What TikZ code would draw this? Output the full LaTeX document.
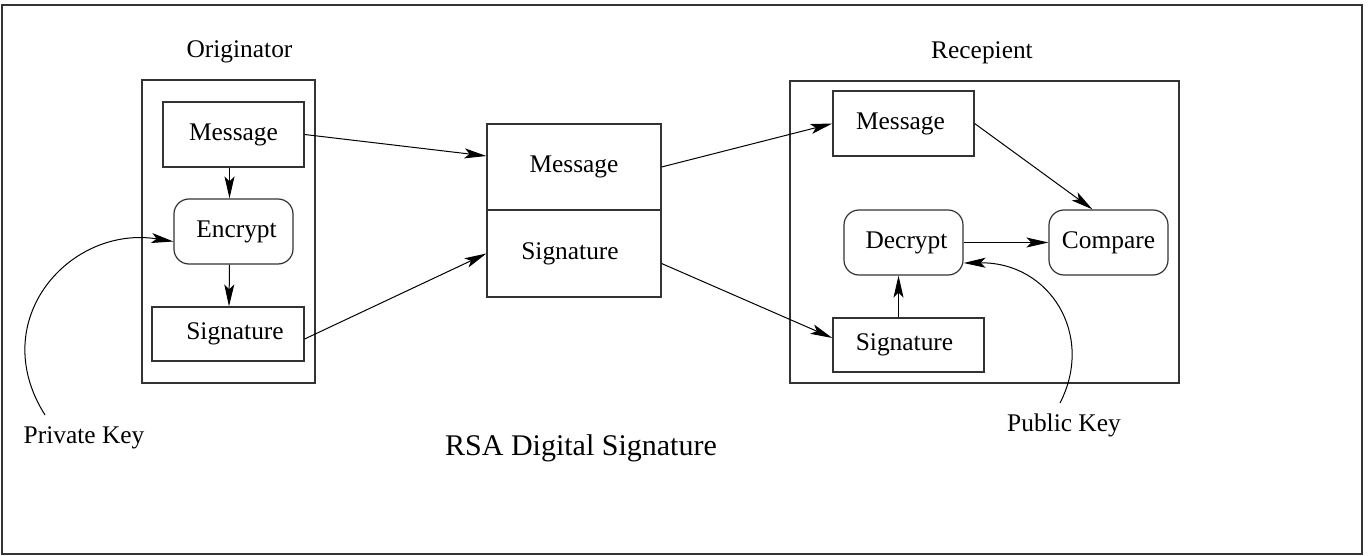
\documentclass[tikz,border=0pt]{standalone}
\usepackage{fontspec}
\setmainfont{Liberation Serif}
\usetikzlibrary{arrows.meta,calc}
\begin{document}
\begin{tikzpicture}[x=0.5pt,y=-0.5pt,
 box/.style={draw=black!80, line width=0.6pt, inner sep=0pt, font=\fontsize{12.7}{15}\selectfont},
 rbox/.style={box, rounded corners=7.5pt},
 lbl/.style={inner sep=0pt, font=\fontsize{12.7}{15}\selectfont},
 conn/.style={-{Stealth[length=11pt,width=5pt,inset=2.5pt]}, line width=0.5pt},
 framebox/.style={draw=black!80, line width=0.6pt}]
\useasboundingbox (0,0) rectangle (1371,556);
\draw[framebox] (2,5) rectangle (1362,554);

% originator
\node[lbl] (orig) at (239.5,52) {Originator};
\node[box, minimum width=86.5pt, minimum height=151.5pt] (obox) at (228.5,231.5) {};
\node[box, minimum width=70.5pt, minimum height=32.5pt] (omsg) at (233.5,134.5) {Message};
\node[rbox, minimum width=59.5pt, minimum height=32.5pt] (enc) at (233.5,231.5) {\hspace*{3pt}Encrypt};
\node[box, minimum width=76pt, minimum height=27pt] (osig) at (228,334) {\hspace*{7pt}Signature};

% middle
\node[box, minimum width=87pt, minimum height=43pt] (msgmid) at (574,167) {Message};
\node[box, minimum width=87pt, minimum height=43.5pt] (sigmid) at (574,253.5) {\hspace*{-4pt}Signature};

% recipient
\node[lbl] (recp) at (982,53) {Recepient};
\node[box, minimum width=194.5pt, minimum height=151pt] (rbox) at (984.5,232) {};
\node[box, minimum width=70.5pt, minimum height=32.5pt] (rmsg) at (903.5,123.5) {\hspace*{-3pt}Message};
\node[rbox, minimum width=59.5pt, minimum height=32.5pt] (dec) at (903.5,242.5) {\hspace*{3pt}Decrypt};
\node[rbox, minimum width=59.5pt, minimum height=32.5pt] (cmp) at (1108.5,242.5) {Compare};
\node[box, minimum width=75.5pt, minimum height=27pt] (rsig) at (908.5,345) {\hspace*{-4pt}Signature};

% labels
\node[lbl] (prk) at (84,438) {Private Key};
\node[lbl] (pbk) at (1064,425) {Public Key};
\node[inner sep=0pt, font=\fontsize{15}{18}\selectfont] (title) at (581,448) {RSA Digital Signature};
\coordinate (prkc) at (45,415);
\coordinate (pbkc) at (1060,403);

% connectors (left)
\draw[conn] ($(omsg.south)+(-4,0)$) -- ($(enc.north)+(-4,0)$);
\draw[conn] ($(enc.south)+(-4,0)$) -- ($(osig.north)+(1,0)$);
\draw[conn] (omsg.east) -- ($(msgmid.west)+(0,-11)$);
\draw[conn] ($(osig.east)+(0,5)$) -- (sigmid.west);
\draw[conn] (prkc) .. controls (-15,320) and (70,225) .. ($(enc.west)+(0,10)$);

% connectors (right)
\draw[conn] (msgmid.east) -- (rmsg.west);
\draw[conn] ($(sigmid.east)+(0,10)$) -- ($(rsig.west)+(0,-7)$);
\draw[conn] (rmsg.east) -- ($(cmp.north)+(-16,0)$);
\draw[conn] (dec.east) -- (cmp.west);
\draw[conn] ($(rsig.north)+(-10,0)$) -- ($(dec.south)+(-5,0)$);
\draw[conn] (pbkc) .. controls (1095,335) and (1050,262) .. ($(dec.east)+(0,20.5)$);
\end{tikzpicture}
\end{document}
